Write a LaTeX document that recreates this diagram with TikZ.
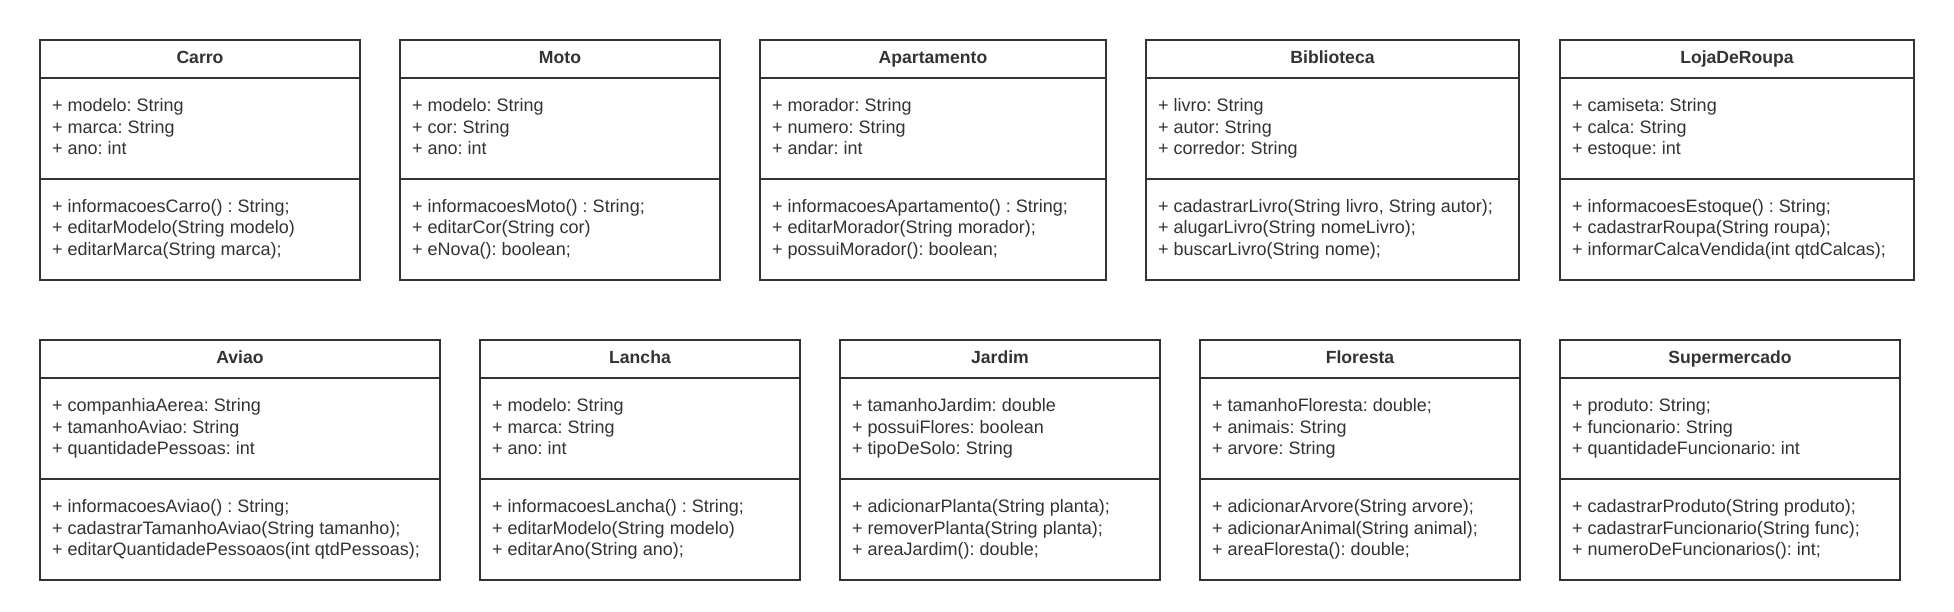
\documentclass[tikz,border=0pt]{standalone}
\usepackage{fontspec}
\setmainfont{Liberation Sans}
\frenchspacing
\definecolor{umlgray}{HTML}{333333}
\tikzset{
  umlframe/.style={draw=umlgray, line width=2pt, rectangle, anchor=north west,
    inner sep=0pt, outer sep=0pt, minimum height=240pt},
  umltitle/.style={anchor=base, inner sep=0pt, text=umlgray,
    font=\fontsize{17.6}{21.7}\selectfont\frenchspacing\bfseries},
  umltext/.style={anchor=base west, inner sep=0pt, text=umlgray,
    font=\fontsize{18}{21.7}\selectfont\frenchspacing},
  umlsep/.style={draw=umlgray, line width=2pt},
}
% #1 name, #2 left x, #3 top y, #4 width, #5 title
\newcommand{\umlclassbox}[5]{%
  \node[umlframe, minimum width=#4pt] (#1) at (#2,#3) {};
  \draw[umlsep] ([yshift=-37.7pt]#1.north west) -- ([yshift=-37.7pt]#1.north east);
  \draw[umlsep] ([yshift=-139pt]#1.north west) -- ([yshift=-139pt]#1.north east);
  \node[umltitle] (#1-t) at ([yshift=-23.3pt]#1.north) {#5};
}
\newcommand{\umlattrs}[4]{%
  \node[umltext] (#1-a1) at ([xshift=12pt,yshift=-71.5pt]#1.north west) {#2};
  \node[umltext] (#1-a2) at ([xshift=12pt,yshift=-93.2pt]#1.north west) {#3};
  \node[umltext] (#1-a3) at ([xshift=12pt,yshift=-114.9pt]#1.north west) {#4};
}
\newcommand{\umlmeths}[4]{%
  \node[umltext] (#1-m1) at ([xshift=12pt,yshift=-172.3pt]#1.north west) {#2};
  \node[umltext] (#1-m2) at ([xshift=12pt,yshift=-194pt]#1.north west) {#3};
  \node[umltext] (#1-m3) at ([xshift=12pt,yshift=-215.7pt]#1.north west) {#4};
}
\begin{document}
\begin{tikzpicture}[x=1pt,y=-1pt]
\useasboundingbox[fill=white] (0,0) rectangle (1954,612);

% Row 1
\umlclassbox{carro}{40}{40}{320}{Carro}
\umlattrs{carro}{+ modelo: String}{+ marca: String}{+ ano: int}
\umlmeths{carro}{+ informacoesCarro() : String;}{+ editarModelo(String modelo)}{+ editarMarca(String marca);}

\umlclassbox{moto}{400}{40}{320}{Moto}
\umlattrs{moto}{+ modelo: String}{+ cor: String}{+ ano: int}
\umlmeths{moto}{+ informacoesMoto() : String;}{+ editarCor(String cor)}{+ eNova(): boolean;}

\umlclassbox{apto}{760}{40}{346}{Apartamento}
\umlattrs{apto}{+ morador: String}{+ numero: String}{+ andar: int}
\umlmeths{apto}{+ informacoesApartamento() : String;}{+ editarMorador(String morador);}{+ possuiMorador(): boolean;}

\umlclassbox{biblio}{1146}{40}{373}{Biblioteca}
\umlattrs{biblio}{+ livro: String}{+ autor: String}{+ corredor: String}
\umlmeths{biblio}{+ cadastrarLivro(String livro, String autor);}{+ alugarLivro(String nomeLivro);}{+ buscarLivro(String nome);}

\umlclassbox{loja}{1560}{40}{354}{LojaDeRoupa}
\umlattrs{loja}{+ camiseta: String}{+ calca: String}{+ estoque: int}
\umlmeths{loja}{+ informacoesEstoque() : String;}{+ cadastrarRoupa(String roupa);}{+ informarCalcaVendida(int qtdCalcas);}

% Row 2
\umlclassbox{aviao}{40}{340}{400}{Aviao}
\umlattrs{aviao}{+ companhiaAerea: String}{+ tamanhoAviao: String}{+ quantidadePessoas: int}
\umlmeths{aviao}{+ informacoesAviao() : String;}{+ cadastrarTamanhoAviao(String tamanho);}{+ editarQuantidadePessoaos(int qtdPessoas);}

\umlclassbox{lancha}{480}{340}{320}{Lancha}
\umlattrs{lancha}{+ modelo: String}{+ marca: String}{+ ano: int}
\umlmeths{lancha}{+ informacoesLancha() : String;}{+ editarModelo(String modelo)}{+ editarAno(String ano);}

\umlclassbox{jardim}{840}{340}{320}{Jardim}
\umlattrs{jardim}{+ tamanhoJardim: double}{+ possuiFlores: boolean}{+ tipoDeSolo: String}
\umlmeths{jardim}{+ adicionarPlanta(String planta);}{+ removerPlanta(String planta);}{+ areaJardim(): double;}

\umlclassbox{floresta}{1200}{340}{320}{Floresta}
\umlattrs{floresta}{+ tamanhoFloresta: double;}{+ animais: String}{+ arvore: String}
\umlmeths{floresta}{+ adicionarArvore(String arvore);}{+ adicionarAnimal(String animal);}{+ areaFloresta(): double;}

\umlclassbox{super}{1560}{340}{340}{Supermercado}
\umlattrs{super}{+ produto: String;}{+ funcionario: String}{+ quantidadeFuncionario: int}
\umlmeths{super}{+ cadastrarProduto(String produto);}{+ cadastrarFuncionario(String func);}{+ numeroDeFuncionarios(): int;}
\end{tikzpicture}
\end{document}
